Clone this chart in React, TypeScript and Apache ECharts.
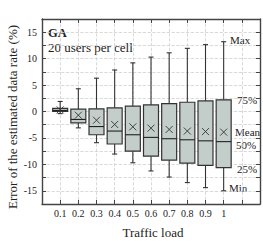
import React, { useEffect, useRef } from "react";
import * as echarts from "echarts";

const trafficLoad = [0.1, 0.2, 0.3, 0.4, 0.5, 0.6, 0.7, 0.8, 0.9, 1.0];
const minVals = [-0.4, -3.1, -5.9, -8.05, -9.7, -11.25, -12.4, -13.45, -14.4, -15.0];
const q1Vals = [0.0, -2.15, -4.4, -6.15, -7.5, -8.45, -9.2, -9.75, -10.2, -10.6];
const medianVals = [0.2, -1.5, -2.85, -3.7, -4.4, -4.9, -5.15, -5.35, -5.55, -5.7];
const q3Vals = [0.6, 0.45, 0.5, 0.7, 1.0, 1.25, 1.5, 1.75, 2.0, 2.2];
const maxVals = [1.9, 4.3, 6.3, 7.85, 9.2, 10.3, 11.1, 11.95, 12.65, 13.2];
const meanVals = [0.3, -0.7, -1.65, -2.45, -2.9, -3.15, -3.4, -3.7, -3.8, -3.9];

const FONT = "'Liberation Serif', 'DejaVu Serif', serif";
const TXT = "#222";

export default function App() {
  const ref = useRef<HTMLDivElement>(null);
  useEffect(() => {
    document.body.style.margin = "0";
    const chart = echarts.init(ref.current!, null, { renderer: "svg" });
    const data = trafficLoad.map((x, i) => [
      x,
      minVals[i],
      q1Vals[i],
      medianVals[i],
      q3Vals[i],
      maxVals[i],
      meanVals[i],
    ]);
    const renderItem = (params: any, api: any) => {
      const x = api.value(0);
      const pMin = api.coord([x, api.value(1)]);
      const pQ1 = api.coord([x, api.value(2)]);
      const pMed = api.coord([x, api.value(3)]);
      const pQ3 = api.coord([x, api.value(4)]);
      const pMax = api.coord([x, api.value(5)]);
      const pMean = api.coord([x, api.value(6)]);
      const cx = pMed[0];
      const hw = 7.5;
      const cap = 2.5;
      const m = 3.5;
      const wStyle = { stroke: "#333", lineWidth: 1.1 };
      return {
        type: "group",
        children: [
          { type: "line", shape: { x1: cx, y1: pQ3[1], x2: cx, y2: pMax[1] }, style: wStyle },
          { type: "line", shape: { x1: cx, y1: pQ1[1], x2: cx, y2: pMin[1] }, style: wStyle },
          { type: "line", shape: { x1: cx - cap, y1: pMax[1], x2: cx + cap, y2: pMax[1] }, style: wStyle },
          { type: "line", shape: { x1: cx - cap, y1: pMin[1], x2: cx + cap, y2: pMin[1] }, style: wStyle },
          {
            type: "rect",
            shape: { x: cx - hw, y: pQ3[1], width: hw * 2, height: pQ1[1] - pQ3[1] },
            style: { fill: "#c3cdca", stroke: "#333", lineWidth: 1.2 },
          },
          { type: "line", shape: { x1: cx - hw, y1: pMed[1], x2: cx + hw, y2: pMed[1] }, style: { stroke: "#222", lineWidth: 1.1 } },
          { type: "line", shape: { x1: cx - m, y1: pMean[1] - m, x2: cx + m, y2: pMean[1] + m }, style: { stroke: "#333", lineWidth: 0.9 } },
          { type: "line", shape: { x1: cx - m, y1: pMean[1] + m, x2: cx + m, y2: pMean[1] - m }, style: { stroke: "#333", lineWidth: 0.9 } },
        ],
      };
    };
    const axisLine = { show: true, onZero: false, lineStyle: { color: "#444", width: 1.4 } };
    const split = { show: true, lineStyle: { color: "#cfcfcf", type: "dashed", width: 0.8 } };
    chart.setOption({
      animation: false,
      grid: { left: 42, right: 1, top: 19, bottom: 37 },
      xAxis: [
        {
          type: "value",
          min: 0,
          max: 1.2,
          interval: 0.1,
          position: "bottom",
          axisLine,
          axisTick: { show: true, inside: true, length: 4, lineStyle: { color: "#444" } },
          splitLine: split,
          axisLabel: {
            margin: 4,
            fontFamily: FONT,
            fontSize: 10,
            color: TXT,
            formatter: (v: number) => {
              const r = Math.round(v * 10) / 10;
              if (r < 0.05 || r > 1.05) return "";
              return r === 1 ? "1" : r.toFixed(1);
            },
          },
        },
        {
          type: "value",
          min: 0,
          max: 1.2,
          interval: 0.1,
          position: "top",
          axisLine,
          axisTick: { show: true, inside: true, length: 4, lineStyle: { color: "#444" } },
          splitLine: { show: false },
          axisLabel: { show: false },
        },
      ],
      yAxis: [
        {
          type: "value",
          min: -17.5,
          max: 17.5,
          interval: 2.5,
          position: "left",
          axisLine,
          axisTick: { show: true, inside: true, length: 4, lineStyle: { color: "#444" } },
          splitLine: split,
          axisLabel: {
            margin: 5,
            fontFamily: FONT,
            fontSize: 10,
            color: TXT,
            formatter: (v: number) => (Math.abs(v % 5) < 1e-6 && Math.abs(v) < 16 ? String(v) : ""),
          },
        },
        {
          type: "value",
          min: -17.5,
          max: 17.5,
          interval: 2.5,
          position: "right",
          axisLine,
          axisTick: { show: true, inside: true, length: 4, lineStyle: { color: "#444" } },
          splitLine: { show: false },
          axisLabel: { show: false },
        },
      ],
      series: [
        {
          type: "custom",
          renderItem,
          data,
          encode: { x: 0, y: [1, 2, 3, 4, 5, 6] },
          clip: false,
        },
      ],
      graphic: [
        { type: "text", left: 48, top: 26, style: { text: "GA", font: `bold 12.5px ${FONT}`, fill: TXT } },
        { type: "text", left: 48, top: 41, style: { text: "20 users per cell", font: `13px ${FONT}`, fill: TXT } },
        { type: "text", x: 230, y: 40, style: { text: "Max", font: `11px ${FONT}`, fill: TXT, verticalAlign: "middle" } },
        { type: "text", x: 237, y: 100, style: { text: "75%", font: `11px ${FONT}`, fill: TXT, verticalAlign: "middle" } },
        { type: "text", x: 235, y: 132, style: { text: "Mean", font: `11px ${FONT}`, fill: TXT, verticalAlign: "middle" } },
        { type: "text", x: 236, y: 145, style: { text: "50%", font: `11px ${FONT}`, fill: TXT, verticalAlign: "middle" } },
        { type: "text", x: 237, y: 169, style: { text: "25%", font: `11px ${FONT}`, fill: TXT, verticalAlign: "middle" } },
        { type: "text", x: 229, y: 188, style: { text: "Min", font: `11px ${FONT}`, fill: TXT, verticalAlign: "middle" } },
        { type: "text", x: 153, y: 232, style: { text: "Traffic load", font: `13px ${FONT}`, fill: TXT, align: "center", verticalAlign: "middle" } },
        {
          type: "text",
          x: 12,
          y: 117,
          rotation: Math.PI / 2,
          style: { text: "Error of the estimated data rate (%)", font: `13px ${FONT}`, fill: TXT, align: "center", verticalAlign: "middle" },
        },
      ],
    });
    return () => chart.dispose();
  }, []);
  return <div ref={ref} style={{ width: 263, height: 241 }} />;
}
